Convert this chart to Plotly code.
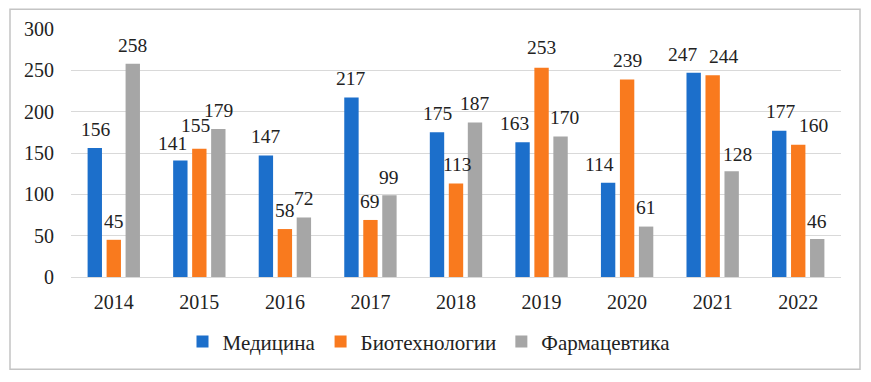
import plotly.graph_objects as go

years = ["2014", "2015", "2016", "2017", "2018", "2019", "2020", "2021", "2022"]
medicine = [156, 141, 147, 217, 175, 163, 114, 247, 177]
biotech = [45, 155, 58, 69, 113, 253, 239, 244, 160]
pharma = [258, 179, 72, 99, 187, 170, 61, 128, 46]

names = ["Медицина", "Биотехнологии", "Фармацевтика"]
colors = ["#1c6fcb", "#f97a1e", "#a6a6a6"]

# manual nudges of the data labels (pixels), as in the reference
label_dx = [
    [1, -8, 0, 0, 0, -8, -9, -11, 2],
    [0, -4, 0, 0, 1, 0, 0, 11, 15],
    [0, 0, 0, 0, 0, 4, 0, 6, 0],
]
label_dy = [
    [19, 17, 19, 19, 19, 19, 18, 18, 19],
    [18, 23, 19, 18, 19, 20, 19, 19, 19],
    [18, 19, 19, 18, 19, 19, 19, 17, 17],
]

font_family = "Times New Roman, Liberation Serif, Tinos, serif"

# figure is placed by the page with an 8px body margin
W, H = 863, 374
L, R, T, B = 63, 30, 20.5, 104.5
pw, ph = W - L - R, H - T - B

def px_x(x):
    return (x - L) / pw

def px_y(y):
    return (H - B - y) / ph

xs = list(range(len(years)))
slot = 0.222
bw = 0.168

fig = go.Figure()
annotations = []
for k, (name, vals, col) in enumerate(zip(names, [medicine, biotech, pharma], colors)):
    off = -1.5 * slot + k * slot + (slot - bw) / 2
    fig.add_trace(go.Bar(
        x=xs, y=vals, name=name, marker_color=col, marker_line_width=0,
        width=bw, offset=off,
    ))
    for i, v in enumerate(vals):
        annotations.append(dict(
            x=xs[i] + off + bw / 2, y=v, xref="x", yref="y",
            text=str(v), showarrow=False, xanchor="center", yanchor="middle",
            xshift=label_dx[k][i], yshift=label_dy[k][i],
            font=dict(family=font_family, size=19.5, color="#222"),
        ))

fig.update_layout(
    width=W, height=H,
    margin=dict(l=L, r=R, t=T, b=B, autoexpand=False),
    paper_bgcolor="white", plot_bgcolor="white",
    barmode="overlay",
    font=dict(family=font_family, size=20, color="#222"),
    showlegend=True,
    legend=dict(orientation="h", x=px_x(421), xanchor="center", y=px_y(334.5), yanchor="middle",
                font=dict(family=font_family, size=21, color="#222"),
                itemwidth=30, traceorder="normal"),
    xaxis=dict(range=[-0.5, len(years) - 0.5], tickvals=xs, ticktext=years,
               showgrid=False, showline=False, zeroline=False, ticks="",
               tickfont=dict(family=font_family, size=20, color="#222"),
               ticklabelstandoff=11, automargin=False),
    yaxis=dict(range=[0, 300], dtick=50, showgrid=True, gridcolor="#d9d9d9", gridwidth=1,
               zeroline=True, zerolinecolor="#d9d9d9", zerolinewidth=1,
               showline=False, ticks="", tickfont=dict(family=font_family, size=20, color="#222"),
               ticklabelstandoff=16, automargin=False),
    annotations=annotations,
    shapes=[dict(type="rect", xref="paper", yref="paper",
                 x0=px_x(2), x1=px_x(852), y0=px_y(362), y1=px_y(0.75),
                 line=dict(color="#c4c4c4", width=1.5), fillcolor="rgba(0,0,0,0)", layer="below")],
)

fig.write_html("out.html")
